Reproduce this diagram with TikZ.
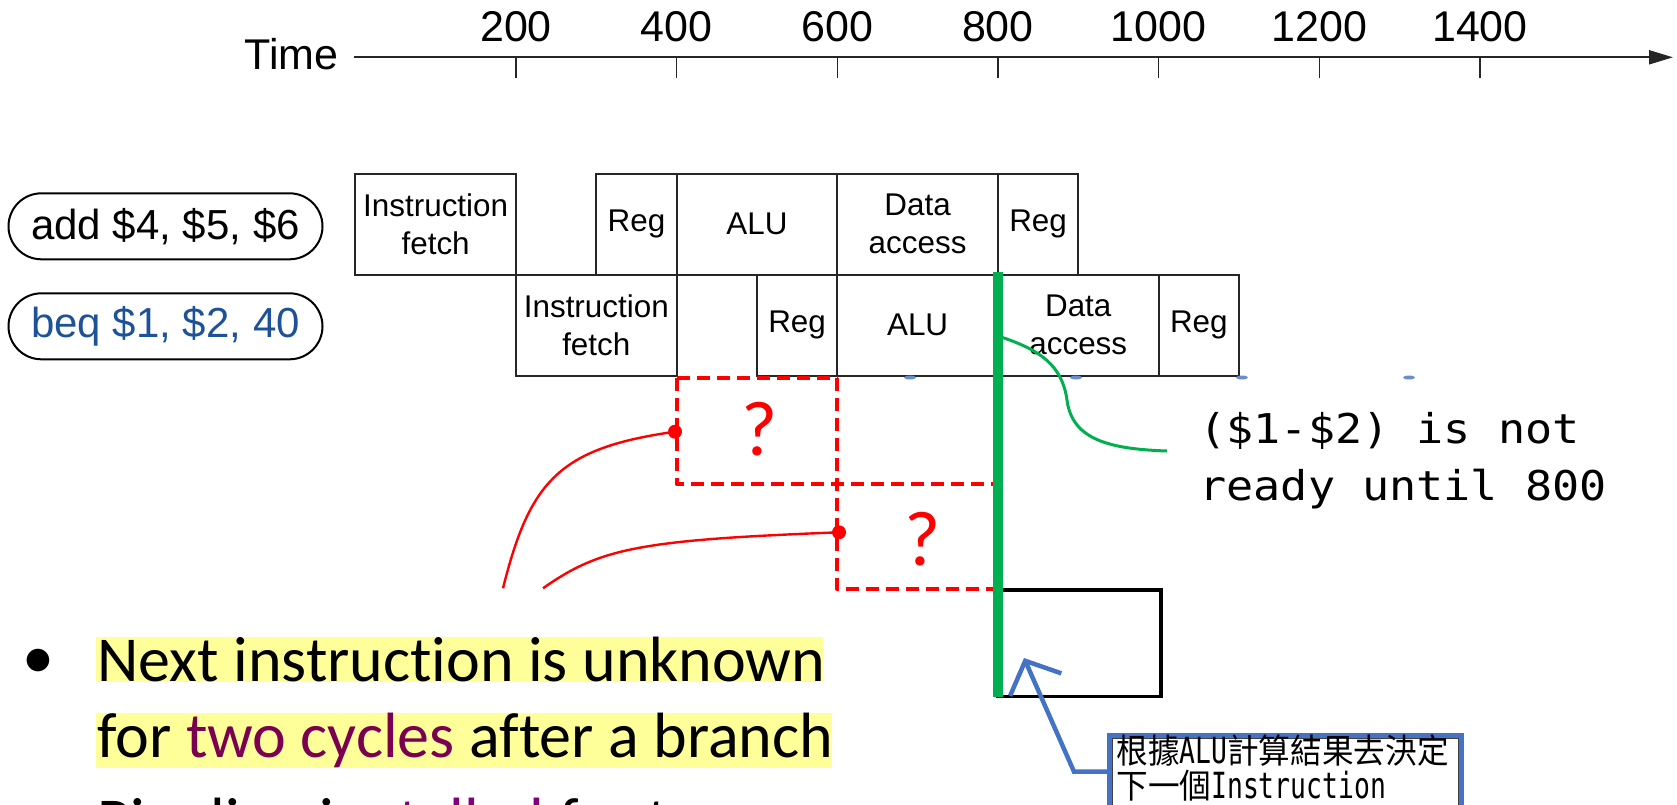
\documentclass[tikz,border=0pt]{standalone}
\usepackage{fontspec}
\setmainfont{Liberation Sans}
\newfontfamily\calibri[Ligatures=CommonOff]{Carlito}
\newfontfamily\codefont[FakeStretch=1.10]{DejaVu Sans Mono}
\newfontfamily\narrowfont[FakeStretch=0.733]{DejaVu Sans Mono}
\newfontfamily\cjk[FakeStretch=0.93]{Noto Sans CJK TC}
\usetikzlibrary{arrows.meta}

\definecolor{pgreen}{RGB}{0,176,80}
\definecolor{pblue}{RGB}{68,114,196}
\definecolor{beqblue}{RGB}{30,82,152}
\definecolor{hilite}{RGB}{255,255,153}
\definecolor{twocyc}{RGB}{122,0,82}
\definecolor{stallc}{RGB}{128,0,128}

\begin{document}
\begin{tikzpicture}[x=0.5pt,y=-0.5pt,
  axisline/.style={draw=black!85, line width=1pt},
  tickline/.style={draw=black!85, line width=0.7pt},
  ticklab/.style={anchor=base, inner sep=0pt, font=\fontsize{21.5}{24}\selectfont},
  instr/.style={draw=black, line width=1pt, rounded corners=16.5pt,
    minimum width=157pt, minimum height=33pt, inner sep=0pt,
    font=\fontsize{21}{24}\selectfont},
  stagebox/.style={draw=black!85, line width=1pt, minimum height=50.5pt,
    inner sep=0pt, align=center, font=\fontsize{15.7}{18.85}\selectfont},
  wide/.style={minimum width=80.35pt},
  narrow/.style={minimum width=40.15pt},
  unknown/.style={draw=red, line width=2pt, dash pattern=on 6.5pt off 3.5pt},
  pointer/.style={draw=red, line width=1.2pt},
  reddot/.style={circle, fill=red, inner sep=0pt, minimum size=7pt},
  qmark/.style={anchor=base, inner sep=0pt, text=red, font=\calibri\fontsize{39}{40}\selectfont},
  greenbar/.style={draw=pgreen, line width=5pt},
  greenlink/.style={draw=pgreen, line width=1.5pt},
  note/.style={anchor=base west, inner sep=0pt, font=\codefont\fontsize{20.5}{28}\selectfont},
  bodytext/.style={anchor=base west, inner sep=0pt, font=\calibri\fontsize{32}{38}\selectfont},
  calltext/.style={anchor=base west, inner sep=0pt, font=\cjk\fontsize{17}{18}\selectfont},
  calloutarrow/.style={draw=pblue, line width=2.25pt, -{Straight Barb[length=13pt,width=28pt]}},
  bluemark/.style={fill=pblue!80}
]
\newcommand{\narrowlatin}[1]{{\narrowfont\fontsize{18}{18}\selectfont #1}}
\useasboundingbox (0,0) rectangle (1677,804);
\clip (0,0) rectangle (1677,804);

% ---- time axis ----
\node[anchor=base east, inner sep=0pt, font=\fontsize{21.5}{24}\selectfont] (timelab) at (339,69) {Time};
\coordinate (axstart) at (354,57.3);
\coordinate (axend) at (1673,57.3);
\draw[axisline, -{Triangle[length=12pt,width=7pt]}] (axstart) -- (axend);
\foreach \t in {200,400,600,800,1000,1200,1400}{
  \pgfmathsetmacro{\tx}{355.3+0.8033*\t}
  \coordinate (tk\t) at (\tx,57.3);
  \draw[tickline] (tk\t) -- ++(0,21);
  \node[ticklab] (lab\t) at (\tx,41.7) {\t};
}

% ---- instruction labels ----
\node[instr] (add) at (165.5,226.3) {add \$4, \$5, \$6};
\node[instr, text=beqblue] (beq) at (165.5,326.3) {beq \$1, \$2, 40};

% ---- pipeline stages of add ----
\node[stagebox, wide]   (if1)  at (435.65,224) {Instruction\\fetch};
\node[stagebox, narrow] (id1)  at (636.45,224) {Reg};
\node[stagebox, wide]   (ex1)  at (756.95,224) {ALU};
\node[stagebox, wide]   (mem1) at (917.6,224)  {Data\\access};
\node[stagebox, narrow] (wb1)  at (1038.1,224) {Reg};

% ---- pipeline stages of beq ----
\node[stagebox, wide]   (if2)  at (596.3,325)   {Instruction\\fetch};
\node[stagebox, narrow] (id2)  at (797.1,325)   {Reg};
\node[stagebox, wide]   (ex2)  at (917.6,325)   {ALU};
\node[stagebox, wide]   (mem2) at (1078.25,325) {Data\\access};
\node[stagebox, narrow] (wb2)  at (1198.8,325)  {Reg};

% small blue remnants under the second row
\foreach \mx in {910,1076,1242,1409}{
  \fill[bluemark] (\mx,377.5) ellipse [x radius=6, y radius=2];
}

% ---- unknown next instructions ----
\coordinate (u1a) at (676.6,378);
\coordinate (u1b) at (837.3,378);
\coordinate (u1c) at (676.6,484);
\coordinate (u1d) at (998,484);
\coordinate (u2c) at (837.3,589.3);
\coordinate (u2d) at (998,589.3);
\draw[unknown] (u1a) -- (u1b);
\draw[unknown, line join=round] (u1a) -- (u1c) -- (u1d);
\draw[unknown, line join=round] (u1b) -- (u2c) -- (u2d);
\node[qmark] (q1) at (760,455) {?};
\node[qmark] (q2) at (923,565) {?};

% ---- resolved next instruction ----
\node[draw=black, line width=1.65pt, minimum width=81.5pt, minimum height=53.25pt, inner sep=0pt] (nextbox) at (1079.5,643.25) {};

% ---- branch decision time ----
\coordinate (gtop) at (998,272);
\coordinate (gbot) at (998,696.5);
\draw[greenbar] (gtop) -- (gbot);
\coordinate (gc0) at (1001,337);
\coordinate (gc1) at (1167,451);
\draw[greenlink] (gc0) .. controls (1040,350) and (1062,365) .. (1067,400)
                       .. controls (1072,440) and (1110,449) .. (gc1);
\node[note] (note1) at (1199,443) {(\$1-\$2) is not};
\node[note] (note2) at (1199,500) {ready until 800};

% ---- pointers from the bullet text ----
\node[reddot] (d1) at (675,431.7) {};
\node[reddot] (d2) at (839,532.3) {};
\coordinate (p1) at (503,588.3);
\coordinate (p2) at (543,588.3);
\draw[pointer] (p1) .. controls (530,480) and (560,448) .. (d1.center);
\draw[pointer] (p2) .. controls (600,548) and (640,540) .. (d2.center);

% ---- bullet text ----
\fill[hilite] (96,637) rectangle (823,682);
\fill[hilite] (96,713) rectangle (832,768);
\node[anchor=center, inner sep=0pt, font=\calibri\fontsize{32}{38}\selectfont] (bul) at (38,664) {•};
\node[bodytext] (line1) at (97,681.7) {Next instruction is unknown};
\node[bodytext] (line2) at (97,757.3) {for \textcolor{twocyc}{two cycles} after a branch};
\node[bodytext] (line3) at (97,842) {Pipeline is \textcolor{stallc}{stalled} for two};

% ---- callout ----
\node[draw=pblue, line width=2.25pt, minimum width=176pt, minimum height=52.25pt, inner sep=0pt] (calloutbox) at (1285.5,787.75) {};
\node[draw=black!75, line width=0.5pt, minimum width=173pt, minimum height=50.75pt, inner sep=0pt] (calloutinner) at (1285.5,789.25) {};
\node[calltext] (call1) at (1116,763) {根據\narrowlatin{ALU}計算結果去決定};
\node[calltext] (call2) at (1116,798) {下一個\narrowlatin{Instruction}};
\coordinate (atip) at (1024,658);
\coordinate (abend) at (1074,771.7);
\draw[calloutarrow] (calloutbox.west |- abend) -- (abend) -- (atip);
\end{tikzpicture}
\end{document}
